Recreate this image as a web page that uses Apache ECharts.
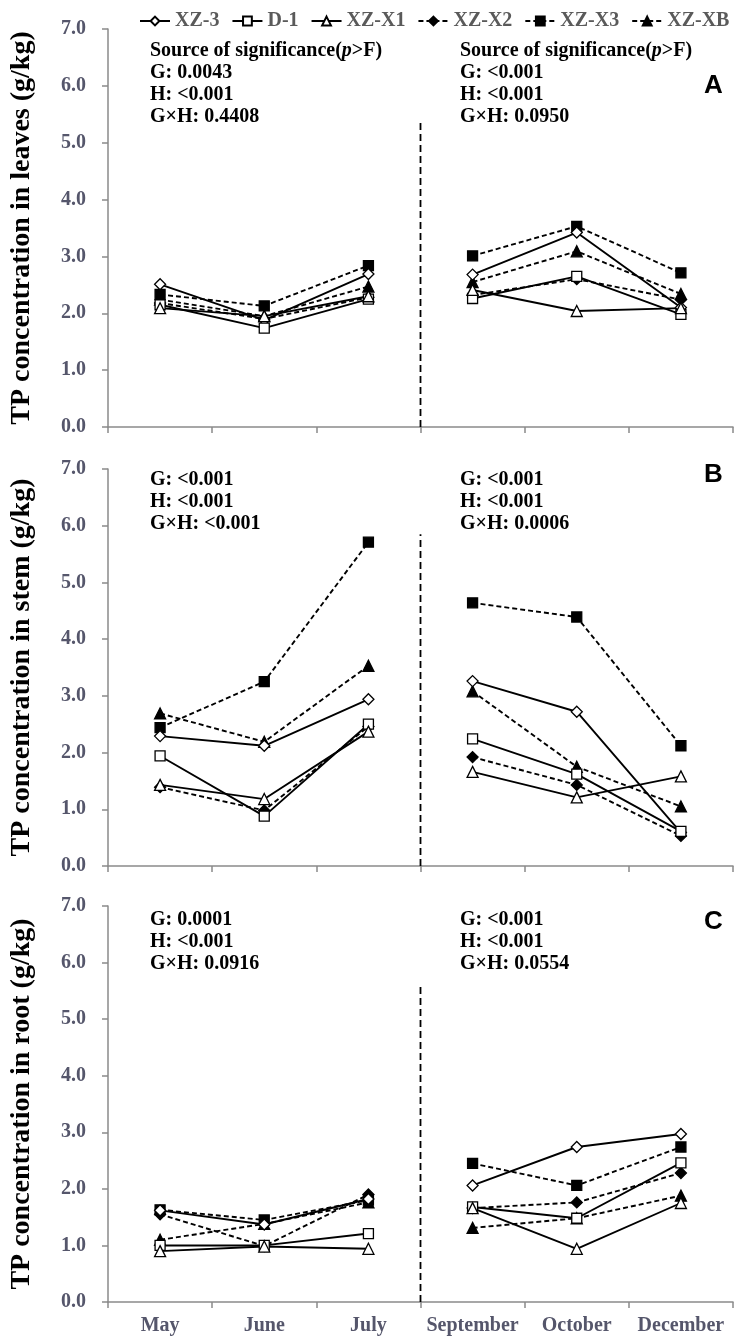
<!DOCTYPE html>
<html>
<head>
<meta charset="utf-8">
<script src="https://cdn.jsdelivr.net/npm/echarts@6/dist/echarts.min.js"></script>
<style>
html,body{margin:0;padding:0;background:#fff;}
#chart{width:739px;height:1340px;}
</style>
</head>
<body>
<div id="chart"></div>
<script>
var months = ['May','June','July','September','October','December'];
var seriesNames = ['XZ-3','D-1','XZ-X1','XZ-X2','XZ-X3','XZ-XB'];
var yTicks = [0,1,2,3,4,5,6,7];

// TP concentration in leaves (g/kg)
var leafXZ3 = [2.51, 1.88, 2.69, 2.68, 3.42, 2.10];
var leafD1  = [2.15, 1.74, 2.25, 2.26, 2.65, 1.98];
var leafX1  = [2.09, 1.95, 2.30, 2.41, 2.04, 2.09];
var leafX2  = [2.18, 1.90, 2.28, 2.32, 2.60, 2.24];
var leafX3  = [2.33, 2.13, 2.84, 3.01, 3.53, 2.71];
var leafXB  = [2.24, 1.95, 2.47, 2.55, 3.09, 2.34];

// TP concentration in stem (g/kg)
var stemXZ3 = [2.29, 2.12, 2.94, 3.26, 2.72, 0.59];
var stemD1  = [1.94, 0.88, 2.50, 2.24, 1.62, 0.61];
var stemX1  = [1.43, 1.18, 2.37, 1.66, 1.21, 1.58];
var stemX2  = [1.39, 0.98, 2.46, 1.92, 1.43, 0.53];
var stemX3  = [2.44, 3.25, 5.71, 4.64, 4.39, 2.12];
var stemXB  = [2.69, 2.19, 3.53, 3.08, 1.75, 1.05];

// TP concentration in root (g/kg)
var rootXZ3 = [1.62, 1.37, 1.82, 2.06, 2.74, 2.97];
var rootD1  = [1.00, 1.00, 1.21, 1.68, 1.48, 2.46];
var rootX1  = [0.90, 0.98, 0.94, 1.66, 0.94, 1.75];
var rootX2  = [1.55, 0.99, 1.90, 1.66, 1.76, 2.28];
var rootX3  = [1.63, 1.45, 1.80, 2.45, 2.06, 2.74];
var rootXB  = [1.10, 1.38, 1.76, 1.31, 1.48, 1.88];

// height (g/kg) reached by the dashed divider between July and September
var dividerTop = [5.35, 5.85, 5.6];

var panelTitles = ['TP concentration in leaves (g/kg)','TP concentration in stem (g/kg)','TP concentration in root (g/kg)'];
var panelLetters = ['A','B','C'];
var statsLeft = [
  'Source of significance({i|p}>F)\nG: 0.0043\nH: <0.001\nG×H: 0.4408',
  'G: <0.001\nH: <0.001\nG×H: <0.001',
  'G: 0.0001\nH: <0.001\nG×H: 0.0916'
];
var statsRight = [
  'Source of significance({i|p}>F)\nG: <0.001\nH: <0.001\nG×H: 0.0950',
  'G: <0.001\nH: <0.001\nG×H: 0.0006',
  'G: <0.001\nH: <0.001\nG×H: 0.0554'
];

var panels = [
  [leafXZ3, leafD1, leafX1, leafX2, leafX3, leafXB],
  [stemXZ3, stemD1, stemX1, stemX2, stemX3, stemXB],
  [rootXZ3, rootD1, rootX1, rootX2, rootX3, rootXB]
];

var styleDefs = [
  {symbol:'diamond', filled:false, dashed:false, size:11},
  {symbol:'rect', filled:false, dashed:false, size:10},
  {symbol:'triangle', filled:false, dashed:false, size:11},
  {symbol:'diamond', filled:true, dashed:true, size:11},
  {symbol:'rect', filled:true, dashed:true, size:10},
  {symbol:'triangle', filled:true, dashed:true, size:11}
];

var gridTops = [29, 469, 906];
var gridH = [398, 397, 396];
var serif = '"Liberation Serif","Times New Roman",serif';
var tickColor = '#55566b';
var axisColor = '#8a8a8a';

var grids = [], xAxes = [], yAxes = [], series = [], graphics = [];
for (var p = 0; p < 3; p++) {
  grids.push({left:103, right:6, top:gridTops[p], height:gridH[p]});
  xAxes.push({
    type:'category', gridIndex:p, data:months, boundaryGap:true,
    axisLine:{lineStyle:{color:axisColor, width:1.5}},
    axisTick:{show:true, length:6, interval:0, lineStyle:{color:axisColor, width:1.5}},
    axisLabel:{show:p===2, interval:0, color:tickColor, fontFamily:serif, fontWeight:'bold', fontSize:20, margin:14},
    splitLine:{show:false}
  });
  xAxes.push({type:'value', gridIndex:p, min:0, max:6, show:false});
  yAxes.push({
    type:'value', gridIndex:p, min:0, max:7, interval:1,
    name:panelTitles[p], nameLocation:'middle', nameGap:72,
    nameTextStyle:{color:'#000', fontFamily:serif, fontWeight:'bold', fontSize:28},
    axisLine:{show:true, lineStyle:{color:axisColor, width:1.5}},
    axisTick:{show:true, length:6, lineStyle:{color:axisColor, width:1.5}},
    axisLabel:{color:tickColor, fontFamily:serif, fontWeight:'bold', fontSize:20, margin:22,
      formatter:function(v){return v.toFixed(1);}},
    splitLine:{show:false}
  });
  for (var s = 0; s < 6; s++) {
    var d = styleDefs[s];
    var vals = panels[p][s];
    var halves = [
      vals.map(function(v,i){return i<3 ? v : '-';}),
      vals.map(function(v,i){return i>=3 ? v : '-';})
    ];
    for (var h = 0; h < 2; h++) {
      series.push({
        name:seriesNames[s], type:'line', xAxisIndex:p*2, yAxisIndex:p,
        data:halves[h], symbol:d.symbol, symbolSize:d.size, showSymbol:true,
        connectNulls:false, animation:false, z: d.filled ? 3 : 4,
        lineStyle:{color:'#000', width:1.9, type: d.dashed ? [5,3] : 'solid'},
        itemStyle:{color: d.filled ? '#000' : '#fff', borderColor:'#000', borderWidth:1.3}
      });
    }
  }
  series.push({
    type:'line', xAxisIndex:p*2+1, yAxisIndex:p, data:[[3,0],[3,dividerTop[p]]],
    symbol:'none', animation:false, silent:true,
    lineStyle:{color:'#000', width:1.8, type:[7,4]}
  });
  var txtStyle = function(t){
    return {text:t, fontFamily:serif, fontWeight:'bold', fontSize:20, fill:'#000', lineHeight:22,
      rich:{i:{fontFamily:serif, fontWeight:'bold', fontStyle:'italic', fontSize:20, fill:'#000', lineHeight:22}}};
  };
  var tTop = [40, 469, 909][p];
  graphics.push({type:'text', left:150, top:tTop, style:txtStyle(statsLeft[p])});
  graphics.push({type:'text', left:460, top:tTop, style:txtStyle(statsRight[p])});
  graphics.push({type:'text', left:704, top:[73, 462, 909][p],
    style:{text:panelLetters[p], fontFamily:'"Liberation Sans",Arial,sans-serif', fontWeight:'bold', fontSize:26, fill:'#000'}});
}

var chart = echarts.init(document.getElementById('chart'), null, {renderer:'canvas'});
chart.setOption({
  animation:false,
  backgroundColor:'#fff',
  legend:{
    data:seriesNames, top:6, left:134, itemWidth:30, itemHeight:11, itemGap:12,
    textStyle:{color:'#5a5a5a', fontFamily:serif, fontWeight:'bold', fontSize:20}
  },
  grid:grids, xAxis:xAxes, yAxis:yAxes, series:series, graphic:graphics
});
</script>
</body>
</html>
